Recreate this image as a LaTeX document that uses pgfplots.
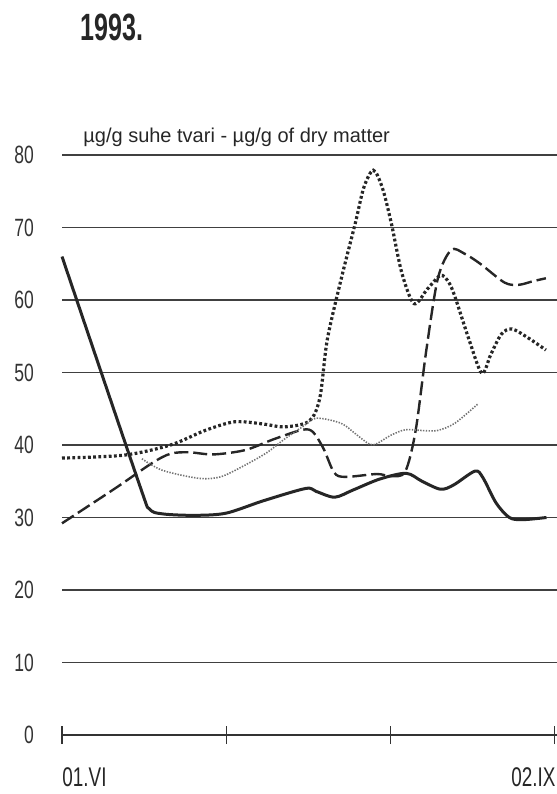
\documentclass[border=0pt]{standalone}
\usepackage{fontspec}
\setmainfont{Liberation Sans}
\newfontfamily\condfont[FakeStretch=0.70]{Liberation Sans}
\newfontfamily\condbold[FakeStretch=0.66]{Liberation Sans Bold}
\usepackage{pgfplots}
\pgfplotsset{compat=1.18}
\begin{document}
\begin{tikzpicture}
\path[use as bounding box] (0,0) rectangle (278.5pt,397pt);
\begin{axis}[
  at={(31pt,29.5pt)}, anchor=south west,
  scale only axis, width=247.5pt, height=290pt,
  xmin=0, xmax=93.5, ymin=0, ymax=80,
  axis x line*=bottom, axis y line*=left,
  y axis line style={draw=none},
  x axis line style={line width=0.55pt, color=black!80},
  xtick={0,31,62,93}, xticklabels={},
  x tick style={line width=0.55pt, color=black!80},
  tick align=center, major tick length=9pt,
  ytick={0,10,...,80},
  yticklabels={0,10,20,30,40,50,60,70,80},
  y tick style={draw=none},
  yticklabel style={font=\condfont\fontsize{12.5}{13}\selectfont, color=black!80, xshift=-6pt},
  ymajorgrids, grid style={line width=0.55pt, color=black!75},
  clip=false,
]
\addplot[smooth, tension=0.5, line width=1.5pt, color=black!85] coordinates {
(0,66) (14.5,34.8) (16.5,31.2) (19,30.5) (25,30.3) (31,30.6) (38,32.3) (46,34.0) (48,33.6) (51.5,32.8) (55,33.8) (60,35.3) (65,36.1) (68,35) (71.5,33.9) (74,34.5) (78,36.4) (79.5,35.5) (82,32) (84.5,30) (87,29.7) (91.5,30.0)
};
\addplot[smooth, tension=0.5, line width=1.2pt, color=black!85, dash pattern=on 7pt off 2.5pt] coordinates {
(0,29.2) (10,34) (17,37.5) (20.5,38.8) (24,39.0) (28.6,38.7) (34.6,39.3) (40,40.8) (45.4,42.1) (47.4,41.8) (49.4,39.5) (51.4,36.2) (53.5,35.6) (59.5,36.0) (62,35.7) (64.8,36.3) (66.8,42) (68.8,53) (71,63) (73.5,66.9) (76,66.4) (79,65) (83.6,62.4) (86.3,62.1) (89,62.6) (91.4,63.0)
};
\addplot[smooth, tension=0.5, line width=1.6pt, color=black!85, dash pattern=on 1.4pt off 1.2pt] coordinates {
(0,38.2) (11.7,38.6) (20.5,40) (27,42) (32.6,43.2) (38,42.9) (42,42.5) (46.7,43.3) (48.7,46.5) (50.1,54.5) (52.7,62.8) (55.4,70.6) (57,75.5) (58.8,77.9) (60.5,75.5) (62.2,70.6) (64.2,63.7) (66.5,59.5) (69,61.5) (71.5,63.4) (73,62.5) (74.2,60.5) (76.9,54.5) (79.3,49.9) (81,52.5) (83,55.3) (85,56.0) (88,54.8) (91.4,53.1)
};
\addplot[smooth, tension=0.5, line width=0.8pt, color=black!55, dash pattern=on 0.7pt off 0.7pt] coordinates {
(15.1,38.1) (19,36.5) (25.9,35.4) (29.9,35.6) (34,37) (38.6,38.9) (42,40.8) (45.4,42.5) (48,43.7) (52.7,43) (55.5,41.5) (58.1,40.1) (59.5,40.2) (62,41.3) (64.8,42.1) (68,42.0) (70.9,42.0) (74.2,43) (78.6,45.7)
};
\end{axis}
\node[anchor=base west, inner sep=0pt, font=\condbold\fontsize{19}{19}\selectfont, color=black!85] at (40pt,376.5pt) {1993.};
\node[anchor=base west, inner sep=0pt, font=\fontsize{10}{10}\selectfont, color=black!85] at (41.5pt,325.5pt) {µg/g suhe tvari - µg/g of dry matter};
\node[anchor=base west, inner sep=0pt, font=\condfont\fontsize{13.5}{13.5}\selectfont, color=black!85] at (31pt,4pt) {01.VI};
\node[anchor=base east, inner sep=0pt, font=\condfont\fontsize{13.5}{13.5}\selectfont, color=black!85] at (278pt,4pt) {02.IX};
\end{tikzpicture}
\end{document}
